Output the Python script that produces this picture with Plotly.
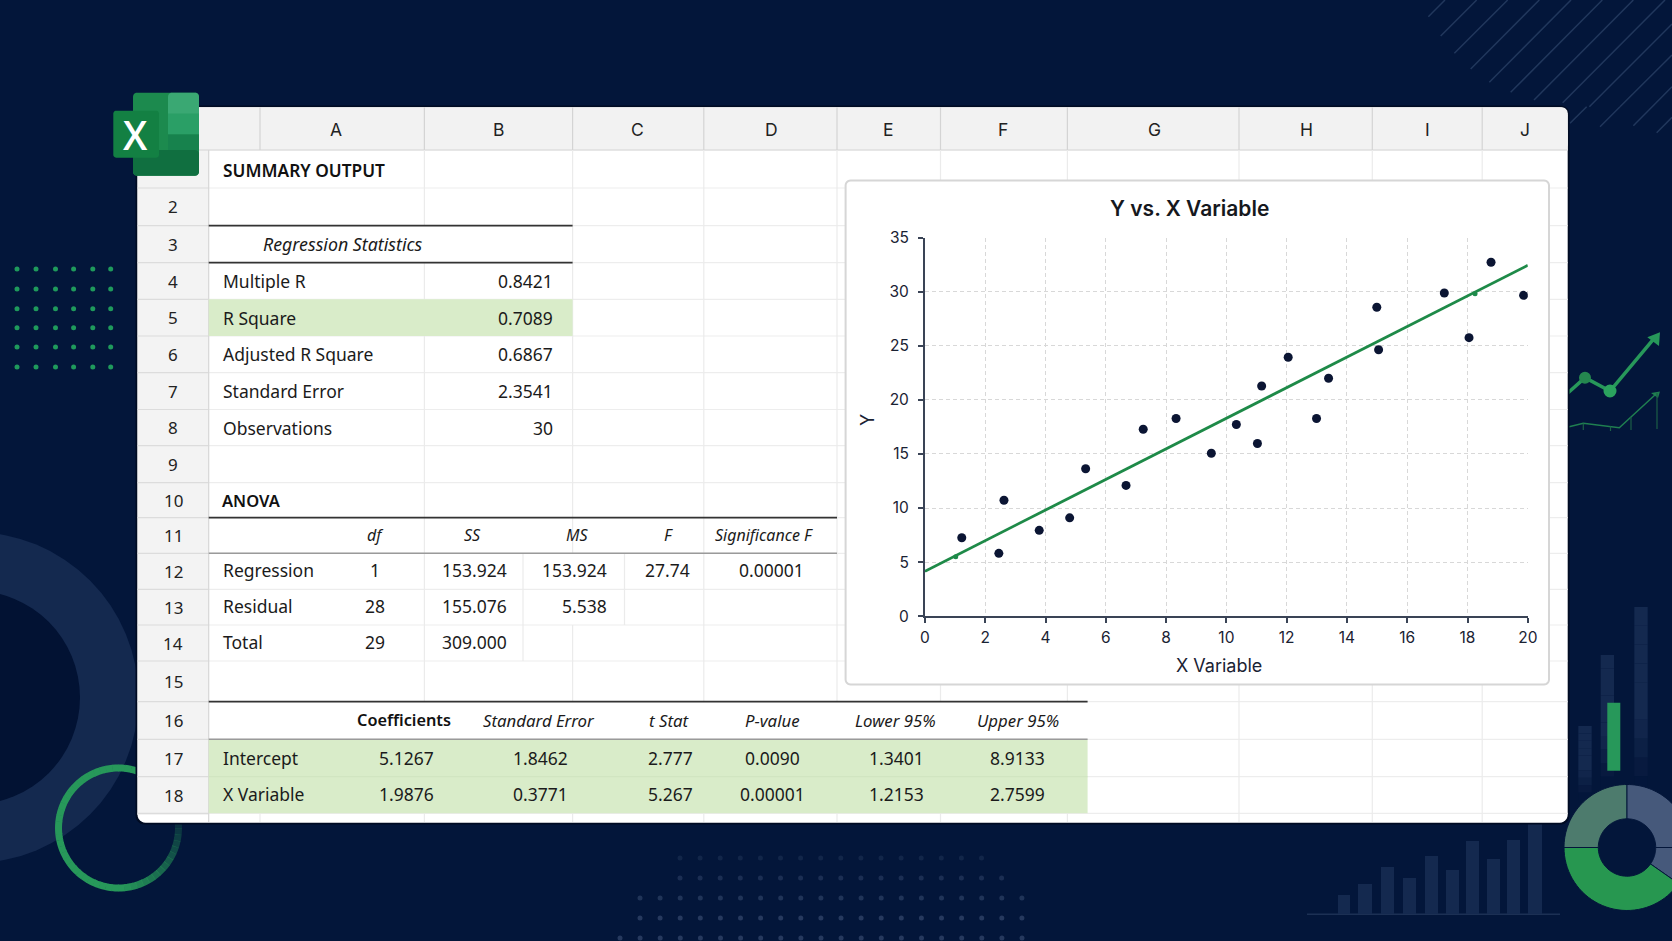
import numpy as np
import plotly.graph_objects as go

W, H = 1672, 941

# scatter data
scatter_x = [1.22, 2.45, 2.62, 3.79, 4.80, 5.33, 6.67, 7.24, 8.33, 9.50, 10.33,
             11.03, 11.17, 12.05, 12.99, 13.39, 14.99, 15.05, 17.23, 18.05, 18.78, 19.86]
scatter_y = [7.25, 5.81, 10.72, 7.94, 9.09, 13.63, 12.09, 17.28, 18.28, 15.06, 17.72,
             15.97, 21.28, 23.94, 18.28, 22.00, 28.56, 24.63, 29.88, 25.75, 32.72, 29.66]
green_x = [1.02, 18.25]
green_y = [5.50, 29.80]
trend_x = [0, 20]
trend_y = [4.16, 32.44]

# sheet contents
col_letters = ["A", "B", "C", "D", "E", "F", "G", "H", "I", "J"]
row_numbers = ["2", "3", "4", "5", "6", "7", "8", "9", "10", "11", "12", "13", "14", "15", "16", "17", "18"]
stat_labels = ["Multiple R", "R Square", "Adjusted R Square", "Standard Error", "Observations"]
stat_values = ["0.8421", "0.7089", "0.6867", "2.3541", "30"]
anova_header = ["df", "SS", "MS", "F", "Significance F"]
anova_labels = ["Regression", "Residual", "Total"]
anova_df = ["1", "28", "29"]
anova_ss = ["153.924", "155.076", "309.000"]
anova_ms = ["153.924", "5.538"]
anova_f = ["27.74"]
anova_sig = ["0.00001"]
coef_header = ["Coefficients", "Standard Error", "t Stat", "P-value", "Lower 95%", "Upper 95%"]
coef_labels = ["Intercept", "X Variable"]
coef_rows = [["5.1267", "1.8462", "2.777", "0.0090", "1.3401", "8.9133"],
             ["1.9876", "0.3771", "5.267", "0.00001", "1.2153", "2.7599"]]

# layout in page pixels
col_edges = [260, 424.4, 572.6, 703.8, 837, 940.5, 1067.4, 1239, 1372.3, 1482.2, 1567.7]
col_mid = [336, 498, 637.6, 771.5, 888.5, 1003.4, 1154.8, 1306, 1427.8, 1525]
row_edges = [150, 188, 225.7, 262.7, 299.3, 336, 372.7, 409.5, 445.7, 482.7, 517.7,
             553.3, 589.3, 625, 661, 701.7, 739.3, 776.7, 813.3]
row_mid = [(a + b) / 2 for a, b in zip(row_edges[:-1], row_edges[1:])]

NAVY = "#03163a"
BAR = "#14294f"
GREEN = "#27985a"
TABLE_FONT = "Noto Sans"
CHART_FONT = "Inter"
shapes = []
notes = []


def px(x):
    return x / W


def py(y):
    return 1 - y / H


def poly(points, fill=None, line=None, width=0, close=True, opacity=1):
    d = "M" + "L".join(f"{px(x):.5f},{py(y):.5f}" for x, y in points) + ("Z" if close else "")
    shapes.append(dict(type="path", path=d, xref="paper", yref="paper", layer="below", opacity=opacity,
                       fillcolor=fill if fill else "rgba(0,0,0,0)",
                       line=dict(color=line if line else "rgba(0,0,0,0)", width=width)))


def rect(x0, y0, x1, y1, fill, opacity=1):
    shapes.append(dict(type="rect", xref="paper", yref="paper", layer="below", opacity=opacity,
                       x0=px(x0), x1=px(x1), y0=py(y1), y1=py(y0), fillcolor=fill, line=dict(width=0)))


def seg(x0, y0, x1, y1, color, width=1, opacity=1):
    shapes.append(dict(type="line", xref="paper", yref="paper", layer="below", opacity=opacity,
                       x0=px(x0), x1=px(x1), y0=py(y0), y1=py(y1), line=dict(color=color, width=width)))


def circle(cx, cy, r, fill, opacity=1):
    shapes.append(dict(type="circle", xref="paper", yref="paper", layer="below", opacity=opacity,
                       x0=px(cx - r), x1=px(cx + r), y0=py(cy + r), y1=py(cy - r),
                       fillcolor=fill, line=dict(width=0)))


def round_rect(x0, y0, x1, y1, r, fill, line=None, width=0):
    pts = []
    for cx, cy, a0 in [(x1 - r, y0 + r, -90), (x1 - r, y1 - r, 0), (x0 + r, y1 - r, 90), (x0 + r, y0 + r, 180)]:
        for a in np.radians(np.linspace(a0, a0 + 90, 7)):
            pts.append((cx + r * np.cos(a), cy + r * np.sin(a)))
    poly(pts, fill=fill, line=line, width=width)


def wedge(cx, cy, r0, r1, a0, a1, fill):
    # angles in degrees, clockwise from east because page y points down
    t = np.radians(np.linspace(a0, a1, 40))
    outer = [(cx + r1 * np.cos(a), cy + r1 * np.sin(a)) for a in t]
    inner = [(cx + r0 * np.cos(a), cy + r0 * np.sin(a)) for a in t[::-1]]
    poly(outer + inner, fill=fill, line=NAVY, width=1)


def fade_bar(x0, y0, x1, y1, color, steps=10, solid=0.6):
    # no gradients on shapes, so stack slices that thin out downwards
    edges = np.linspace(y0, y1, steps + 1)
    for i in range(steps):
        t = i / (steps - 1)
        a = 1 if t < solid else 1 - (t - solid) / (1 - solid)
        rect(x0, edges[i], x1, edges[i + 1], color, opacity=max(a, 0.05))


def text(x, y, s, anchor="left", size=17.5, bold=False, italic=False, color="#1b1b1b", family=TABLE_FONT, angle=0):
    notes.append(dict(x=px(x), y=py(y), xref="paper", yref="paper", text=s, showarrow=False,
                      xanchor=anchor, yanchor="middle", textangle=angle,
                      font=dict(family=family, size=size, color=color,
                                weight=600 if bold else 400, style="italic" if italic else "normal")))


# ---- background decoration ----
circle(-27, 697.5, 165.5, "#14294f")
circle(-27, 697.5, 107, "#021233")

# green ring, fading towards lower right
cx, cy, r = 118.5, 828, 60
for a in range(0, 360, 6):
    t = np.radians(np.linspace(a, a + 6.5, 3))
    op = 1 if not (-30 < a < 80) else max(0.12, 0.25 + a / 110)
    if a >= 330:
        op = 0.2
    poly([(cx + r * np.cos(v), cy + r * np.sin(v)) for v in t], line=GREEN, width=7, close=False, opacity=op)

# left dot grid
for yy in [269, 289, 308.7, 327.7, 347, 367]:
    for xx in [17, 36, 55.5, 73.6, 92.8, 110.7]:
        circle(xx, yy, 2.5, "#1f9a5c")

# bottom dot grid
for yy, x0, x1, op in [(858, 680, 981, 0.45), (878, 680, 1001, 0.7), (898, 640, 1021, 0.85),
                       (918, 640, 1021, 1), (938, 620, 1041, 1)]:
    for xx in np.arange(x0, x1 + 1, 20.1):
        circle(xx, yy, 2.5, "#26395e", opacity=op)

# diagonal hatching, top right
for x0, y0, x1, y1 in [(85, 50, 135, 0), (122, 108, 230, 0), (163, 160, 323, 0), (212, 207, 418, 0),
                       (268, 247, 513, 0), (332, 277, 607, 0), (402, 300, 700, 0), (488, 308, 795, 0),
                       (568, 320, 816, 72), (660, 320, 816, 165), (700, 377, 816, 260), (770, 398, 816, 352),
                       (510, 370, 560, 320), (600, 380, 660, 320)]:
    seg(1400 + x0 / 3, y0 / 3, 1400 + x1 / 3, y1 / 3, "#21375c", 1.5)

# bars under the sheet
seg(1307, 914.3, 1560, 914.3, "#1c3054", 1.5)
for x0, x1, top in [(1338, 1350, 895), (1358, 1372, 884), (1381, 1394, 867), (1403, 1416, 878), (1425, 1438, 856),
                    (1446, 1459, 870), (1466, 1479, 841), (1487, 1500, 859), (1507, 1520, 840), (1528, 1542, 823)]:
    rect(x0, top, x1, 914, BAR)

# bars right of the sheet
fade_bar(1578.3, 726, 1591.7, 800, BAR)
fade_bar(1600.7, 655, 1614, 790, BAR)
fade_bar(1634.3, 607, 1647.7, 795, BAR)
rect(1607.3, 702.7, 1620.3, 770.7, GREEN)

# donut
wedge(1627, 847.5, 28.7, 63, -180, -90, "#4d7b6d")
wedge(1627, 847.5, 28.7, 63, -90, 0, "#46597b")
wedge(1627, 847.5, 28.7, 63, 0, 35, "#46597b")
wedge(1627, 847.5, 28.7, 63, 35, 180, "#279750")

# rising lines to the right of the sheet
poly([(1560, 400), (1585, 377.7), (1610, 391), (1656, 336)], line=GREEN, width=3.5, close=False)
poly([(1647.3, 337.3), (1660, 332.3), (1659, 346)], fill=GREEN)
circle(1585, 377.7, 6, "#25874f")
circle(1610, 391, 6.5, "#2ba35e")
poly([(1560, 429), (1583.3, 423.3), (1619.3, 427.7), (1656, 394)], line="#1f7f50", width=1.5, close=False)
poly([(1651, 393), (1660, 391.5), (1658, 398)], fill="#1f7f50")
for xx, y0, y1 in [(1583.3, 423.5, 430), (1610.5, 426.5, 431), (1631, 417, 430), (1657, 393, 429)]:
    seg(xx, y0, xx, y1, "#1b5f47", 1.2)

# ---- sheet ----
round_rect(135.5, 105.5, 1569.5, 824.5, 9, "#000b22")
round_rect(137.5, 107.3, 1567.7, 822.7, 8, "#ffffff")
rect(137.5, 115, 208.7, 815, "#f3f3f3")
round_rect(137.5, 107.3, 1567.7, 150, 6, "#f2f2f2")
rect(137.5, 130, 1567.7, 150, "#f2f2f2")

# grid
for y in row_edges[1:]:
    seg(208.7, y, 1567.7, y, "#ededed", 1.2)
    seg(137.5, y, 208.7, y, "#dcdcdc", 1.2)
seg(137.5, 150, 1567.7, 150, "#dedede", 1.6)
seg(208.7, 150, 208.7, 822, "#d6d6d6", 1.2)
seg(260, 107.3, 260, 150, "#d4d4d4", 1.2)
for x in col_edges[1:-1]:
    seg(x, 107.3, x, 150, "#d4d4d4", 1.2)

vertical_runs = [(424.4, 150, 226), (424.4, 263, 299), (424.4, 336, 702), (424.4, 813, 822),
                 (572.6, 150, 553), (572.6, 625, 702), (572.6, 813, 822),
                 (523, 553, 661), (624.5, 553, 625),
                 (703.8, 150, 702), (703.8, 813, 822),
                 (837, 150, 702), (837, 813, 822), (260, 813, 822),
                 (940.5, 150, 182), (940.5, 684, 702), (940.5, 813, 822),
                 (1067.4, 150, 182), (1067.4, 684, 702), (1067.4, 813, 822),
                 (1239, 150, 182), (1239, 684, 822),
                 (1372.3, 150, 182), (1372.3, 684, 822),
                 (1482.2, 150, 182), (1482.2, 684, 822)]
for x, y0, y1 in vertical_runs:
    seg(x, y0, x, y1, "#ebebeb", 1.2)

# highlights and rules
rect(208.7, row_edges[4], 572.6, row_edges[5], "#d9ecc9")
rect(208.7, row_edges[16], 1087.6, row_edges[18], "#d9ecc9")
seg(208.7, row_edges[17], 1087.6, row_edges[17], "#cfe3bf", 1)
seg(208.7, row_edges[2], 572.6, row_edges[2], "#333333", 1.8)
seg(208.7, row_edges[3], 572.6, row_edges[3], "#333333", 1.8)
seg(208.7, row_edges[10], 837, row_edges[10], "#333333", 1.8)
seg(208.7, row_edges[11], 837, row_edges[11], "#9a9a9a", 1.5)
seg(208.7, row_edges[15], 1087.6, row_edges[15], "#333333", 1.8)
seg(208.7, row_edges[16], 1087.6, row_edges[16], "#9a9a9a", 1.5)

# chart card
round_rect(845.6, 180.5, 1549, 684.5, 5, "#ffffff", line="#d6d6d6", width=2)

# excel logo, sits over the sheet corner
round_rect(133, 92.7, 199, 175.7, 4, "#1c8a4e")
round_rect(168, 92.7, 199, 118, 4, "#3aa873")
rect(168, 113.5, 199, 134.5, "#2a9f66")
rect(168, 134.5, 199, 155, "#17824d")
round_rect(133, 150, 199, 175.7, 4, "#106f40")
round_rect(113.3, 110.7, 159, 157.7, 3, "#138043")

# ---- text ----
text(135.6, 134.5, "X", "center", size=39, bold=True, color="#ffffff", family="Open Sans")
for x, letter in zip(col_mid, col_letters):
    text(x, 129, letter, "center", size=17.5, color="#222222", family=CHART_FONT)
for i, num in enumerate(row_numbers):
    text(173, row_mid[i + 1], num, "center", size=17, color="#222222")

text(221, 170.5, "SUMMARY OUTPUT", size=17.3, bold=True, color="#111111")
text(261, row_mid[2], "Regression Statistics", size=17.8, italic=True)
for i, (label, value) in enumerate(zip(stat_labels, stat_values)):
    text(221, row_mid[3 + i], label)
    text(555, row_mid[3 + i], value, "right")

text(220, row_mid[9], "ANOVA", size=16.5, bold=True, color="#111111")
for x, label in zip([375, 472.4, 577, 668.6, 763.5], anova_header):
    text(x, row_mid[10] - 0.5, label, "center", size=16, italic=True)
for i, label in enumerate(anova_labels):
    text(220.5, row_mid[11 + i] - 1, label)
    text(375, row_mid[11 + i] - 1, anova_df[i], "center")
    text(509, row_mid[11 + i] - 1, anova_ss[i], "right")
for i, value in enumerate(anova_ms):
    text(608.5, row_mid[11 + i] - 1, value, "right")
text(667.5, row_mid[11] - 1, anova_f[0], "center")
text(771, row_mid[11] - 1, anova_sig[0], "center")

coef_head_x = [404, 539, 669.6, 772, 895.7, 1018.3]
coef_val_x = [406.8, 540.6, 670.7, 772, 896.8, 1017.3]
text(404, row_mid[15] - 0.5, coef_header[0], "center", size=16.3, bold=True, color="#111111")
for x, label in zip(coef_head_x[1:], coef_header[1:]):
    text(x, row_mid[15] - 0.5, label, "center", size=16.8, italic=True)
text(220.5, row_mid[16], coef_labels[0])
text(220.5, row_mid[17] - 1.5, coef_labels[1])
for x, value in zip(coef_val_x, coef_rows[0]):
    text(x, row_mid[16], value, "center")
for x, value in zip(coef_val_x, coef_rows[1]):
    text(x, row_mid[17] - 1.5, value, "center")

# ---- the chart ----
fig = go.Figure()
fig.add_trace(go.Scatter(x=scatter_x, y=scatter_y, mode="markers", showlegend=False,
                         marker=dict(color="#0b1533", size=9)))
fig.add_trace(go.Scatter(x=green_x, y=green_y, mode="markers", showlegend=False,
                         marker=dict(color="#1f8a4c", size=5)))
fig.add_trace(go.Scatter(x=trend_x, y=trend_y, mode="lines", showlegend=False,
                         line=dict(color="#1e8a48", width=2.8)))

axis_style = dict(showline=True, linecolor="#3a4456", linewidth=2, ticks="outside", ticklen=5,
                  tickcolor="#3a4456", tickwidth=1.5, showgrid=True, gridcolor="#d8d8d8",
                  griddash="4px,3px", gridwidth=1, zeroline=False,
                  tickfont=dict(family=CHART_FONT, size=15.5, color="#1a2233"))
fig.update_xaxes(range=[0, 20], dtick=2, domain=[px(925), px(1527.8)], ticklabelstandoff=1, **axis_style)
fig.update_yaxes(range=[0, 35], dtick=5, domain=[py(616.2), py(237.6)], ticklabelstandoff=6, **axis_style)

text(1189, 208, "Y vs. X Variable", "center", size=21, bold=True, color="#16181d", family=CHART_FONT)
text(1219, 665.5, "X Variable", "center", size=18, color="#1a2233", family=CHART_FONT)
text(867, 420, "Y", "center", size=18, color="#1a2233", family=CHART_FONT, angle=-90)

fig.update_layout(width=W, height=H, margin=dict(l=0, r=0, t=0, b=0, autoexpand=False), paper_bgcolor=NAVY,
                  plot_bgcolor="rgba(0,0,0,0)", shapes=shapes, annotations=notes, showlegend=False)

fig.write_html("out.html", config={"displayModeBar": False},
               post_script="document.body.style.margin='0';document.body.style.background='#03163a';")
